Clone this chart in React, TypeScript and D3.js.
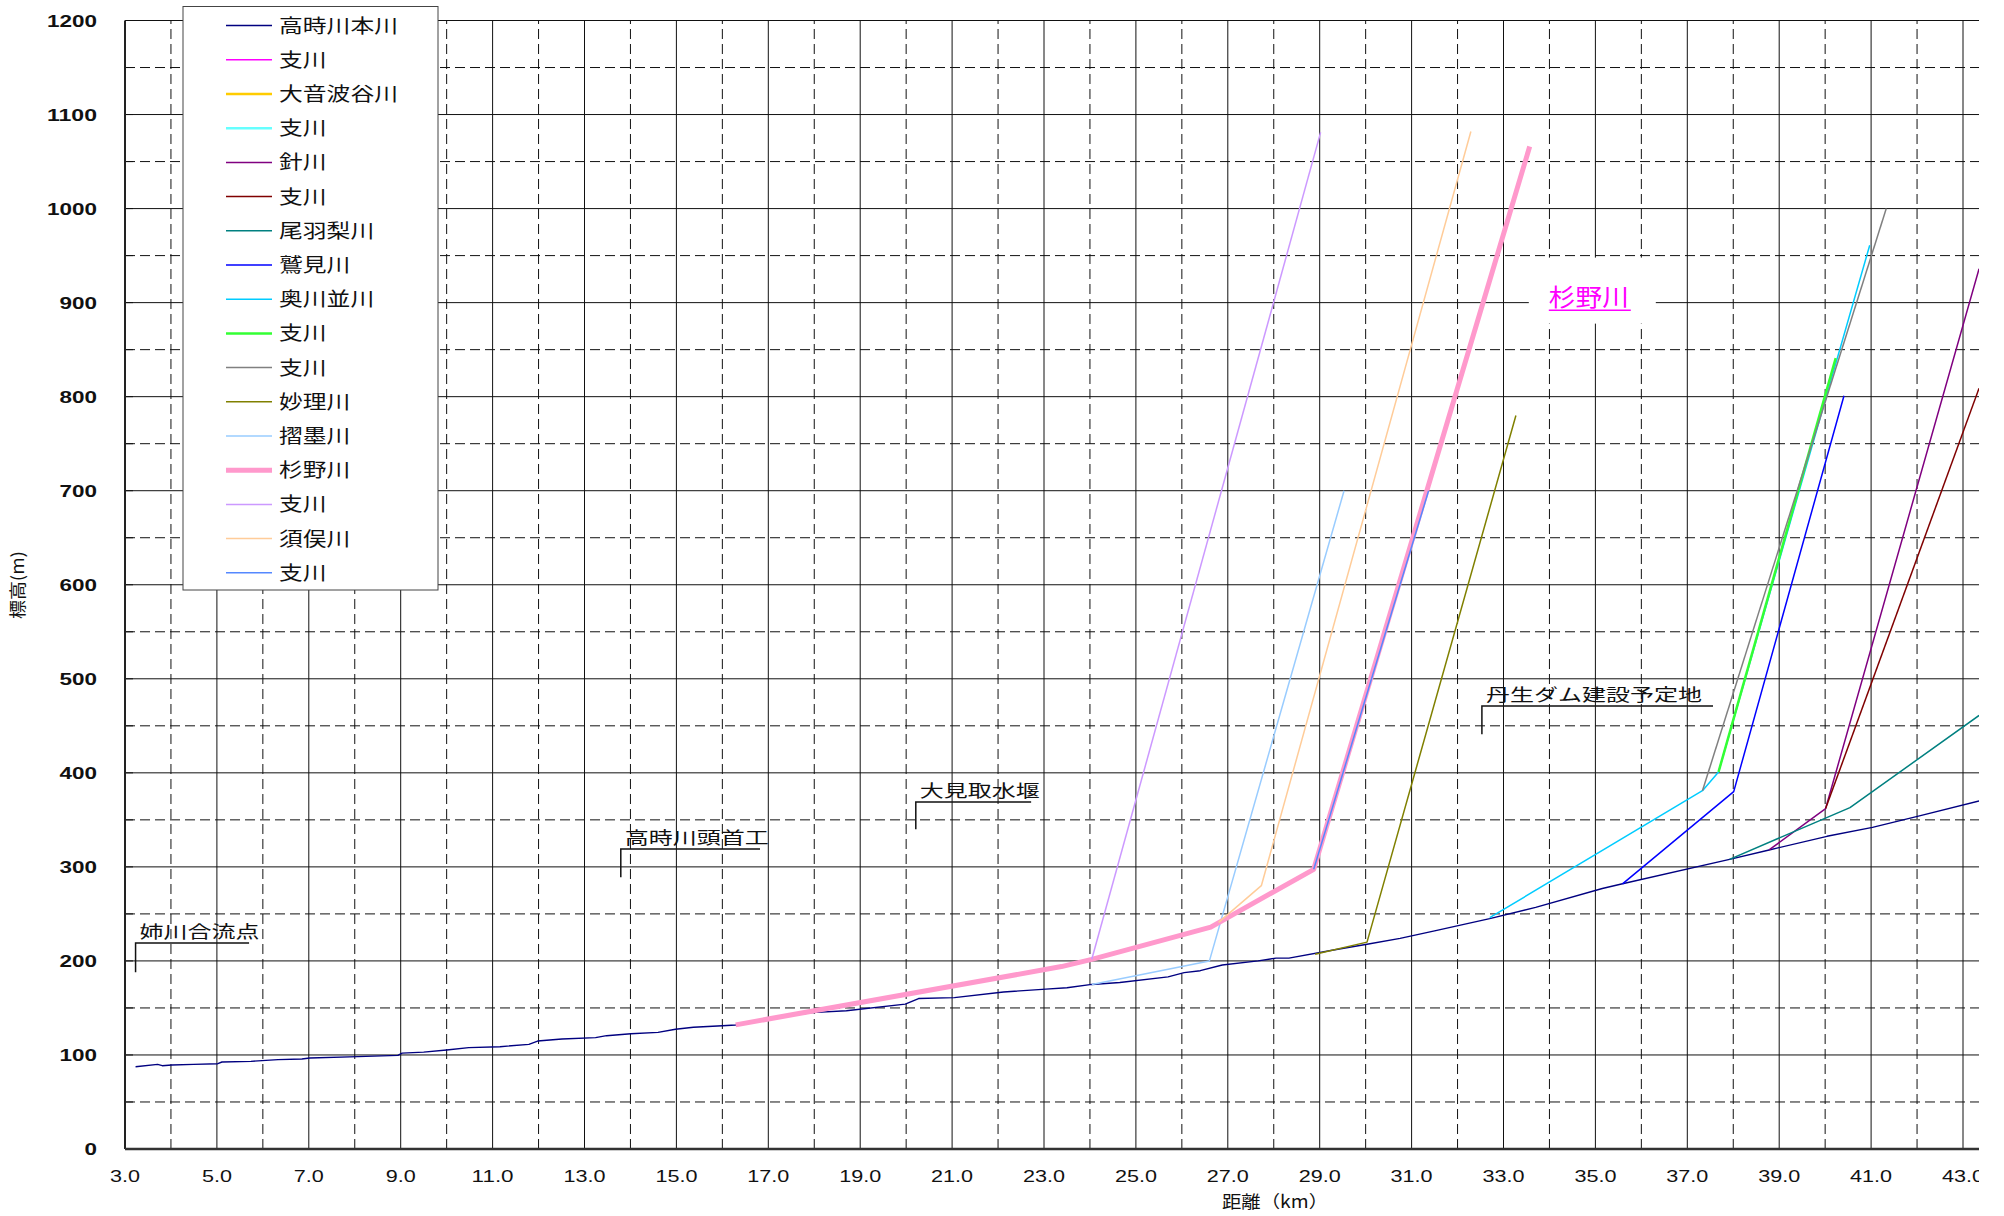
import React from "react";
import * as d3 from "d3";

// ---------- data ----------
const legendNames = [
  "高時川本川", "支川", "大音波谷川", "支川", "針川", "支川", "尾羽梨川", "鷲見川",
  "奥川並川", "支川", "支川", "妙理川", "摺墨川", "杉野川", "支川", "須俣川", "支川",
];

const mainKm = [3.23, 3.71, 3.81, 4.02, 4.49, 5.02, 5.11, 5.74, 6.33, 6.85, 7.02, 8.07, 8.94, 9.03, 9.5, 10.0, 10.48, 11.16, 11.79, 11.98, 12.51, 13.24, 13.48, 14.01, 14.6, 14.98, 15.37, 16.0, 16.29, 16.87, 17.94, 18.7, 19.98, 20.27, 21.05, 22.12, 23.04, 23.5, 24.04, 24.65, 25.7, 26.05, 26.4, 26.88, 27.66, 28.05, 28.33, 29.3, 30.03, 30.75, 31.5, 32.7, 33.7, 35.15, 35.59, 37.92, 38.78, 40.04, 41.03, 42.03, 43.35];
const mainElev = [87.5, 90, 88.6, 89.3, 90, 90.7, 92.5, 93.2, 95, 95.7, 96.8, 98.2, 99.6, 102, 103, 105.3, 107.8, 108.8, 111.3, 114.8, 117, 118.4, 120.5, 122.6, 124, 127.3, 129.4, 131.1, 131.9, 137, 145, 147, 154, 160, 161, 167, 170, 171.5, 175, 177, 183, 187.5, 189.6, 195.7, 200, 203, 203, 211.6, 217.7, 224, 232, 245, 257, 277, 282, 308, 318, 332.5, 342, 354, 370];

const mainTribKm: number[] = [];
const mainTribElev: number[] = [];
const oonebaKm: number[] = [];
const oonebaElev: number[] = [];
const oonebaTribKm: number[] = [];
const oonebaTribElev: number[] = [];
const hariKm = [38.78, 40.01, 43.35];
const hariElev = [318, 362, 936];
const hariTribKm = [40.01, 43.35];
const hariTribElev = [362, 809];
const obanashiKm = [37.92, 40.54, 43.35];
const obanashiElev = [308, 363, 461];
const sumiKm = [35.59, 38.01, 40.41];
const sumiElev = [282, 380, 801];
const okukawanamiKm = [32.7, 37.33, 37.68, 40.97];
const okukawanamiElev = [246, 381, 401, 961];
const greenTribKm = [37.68, 40.23];
const greenTribElev = [401, 841];
const grayTribKm = [37.33, 41.33];
const grayTribElev = [381, 1000];
const myoriKm = [28.9, 30.03, 33.27];
const myoriElev = [207, 220, 780];
const surusumiKm = [24.04, 26.6, 29.53];
const surusumiElev = [175, 200, 700];
const suginoKm = [16.29, 23.38, 24.04, 26.63, 28.87, 33.57];
const suginoElev = [132, 194, 201.7, 236, 297.4, 1066];
const lavenderTribKm = [24.04, 29.02];
const lavenderTribElev = [201.7, 1081];
const sumataKm = [26.8, 27.73, 32.29];
const sumataElev = [241, 280, 1082];
const blueTribKm = [28.87, 31.37];
const blueTribElev = [297.4, 700];

const seriesKm = [mainKm, mainTribKm, oonebaKm, oonebaTribKm, hariKm, hariTribKm, obanashiKm, sumiKm, okukawanamiKm, greenTribKm, grayTribKm, myoriKm, surusumiKm, suginoKm, lavenderTribKm, sumataKm, blueTribKm];
const seriesElev = [mainElev, mainTribElev, oonebaElev, oonebaTribElev, hariElev, hariTribElev, obanashiElev, sumiElev, okukawanamiElev, greenTribElev, grayTribElev, myoriElev, surusumiElev, suginoElev, lavenderTribElev, sumataElev, blueTribElev];

const xTickValues = d3.range(3, 44, 2);
const yTickValues = d3.range(0, 1201, 100);

const annotationLabels = ["姉川合流点", "高時川頭首工", "大見取水堰", "丹生ダム建設予定地"];
const annotationKm = [3.23, 13.79, 20.21, 32.53];
const annotationTopElev = [219, 319, 369, 471];
const annotationBottomElev = [188, 289, 340, 441];
const annotationEndKm = [5.7, 16.82, 22.72, 37.56];

const riverLabel = "杉野川";
const riverLabelKm = 34.9;
const riverLabelElev = 900;

// ---------- styles ----------
const seriesColors = ["#000080", "#FF00FF", "#FFCC00", "#66FFFF", "#800080", "#800000", "#008080", "#0000FF", "#00CCFF", "#33FF33", "#808080", "#808000", "#99CCFF", "#FF99CC", "#CC99FF", "#FFCC99", "#5588FF"];
const seriesWidths = [1.4, 1.5, 2, 2.5, 1.5, 1.5, 1.5, 1.5, 1.5, 2.5, 1.5, 1.5, 1.5, 5, 1.5, 1.5, 1.5];

const CJK = "'Noto Sans CJK JP', 'Noto Sans', sans-serif";
const LAT = "'Liberation Sans', Arial, sans-serif";

export default function App() {
  const x = d3.scaleLinear().domain([3, 43]).range([125, 1963]);
  const y = d3.scaleLinear().domain([0, 1200]).range([1149, 20.5]);
  const clipRight = 1979;
  const line = d3.line<[number, number]>().x((d) => x(d[0])).y((d) => y(d[1]));

  const hGrid = d3.range(50, 1201, 50);
  const vGrid = d3.range(4, 44, 1);

  const legendTop = 25.6;
  const legendStep = 34.2;

  const lx = x(riverLabelKm);
  const ly = y(riverLabelElev);

  return (
    <svg width={2004} height={1216} style={{ position: "absolute", left: 0, top: 0, background: "#fff" }}>
      <defs>
        <clipPath id="clipAll">
          <rect x={0} y={0} width={clipRight} height={1216} />
        </clipPath>
      </defs>
      <rect x={0} y={0} width={2004} height={1216} fill="#fff" />
      <g clipPath="url(#clipAll)">
        {/* grid */}
        {hGrid.map((v) => (
          <line key={"h" + v} x1={x(3)} x2={clipRight} y1={y(v)} y2={y(v)}
            stroke="#111" strokeWidth={1}
            strokeDasharray={v % 100 === 0 ? undefined : "10,5"} />
        ))}
        {vGrid.map((v) => (
          <line key={"v" + v} x1={x(v)} x2={x(v)} y1={y(0)} y2={y(1200)}
            stroke="#111" strokeWidth={1}
            strokeDasharray={v % 2 === 1 ? undefined : "10,5"} />
        ))}
        {/* y inner ticks */}
        {hGrid.map((v) => (
          <line key={"t" + v} x1={x(3)} x2={x(3) + 8} y1={y(v)} y2={y(v)} stroke="#111" strokeWidth={1} />
        ))}
        {/* axes */}
        <line x1={x(3)} x2={x(3)} y1={y(0)} y2={y(1200)} stroke="#222" strokeWidth={2} />
        <line x1={x(3)} x2={clipRight} y1={y(0)} y2={y(0)} stroke="#333" strokeWidth={2.5} />

        {/* series */}
        {seriesKm.map((kms, i) => {
          const pts = kms.map((k, j) => [k, seriesElev[i][j]] as [number, number]);
          if (pts.length < 2) return null;
          return (
            <path key={"s" + i} d={line(pts) || ""} fill="none" stroke={seriesColors[i]}
              strokeWidth={seriesWidths[i]} strokeLinejoin="round" />
          );
        })}

        {/* river label with white box */}
        <rect x={lx - 62} y={y(950) + 2} width={127} height={y(900) - y(950) + 19} fill="#fff" />
        <text x={lx - 42} y={ly + 3} fontFamily={CJK} fontSize={24} fill="#FF00FF"
          textLength={80} lengthAdjust="spacingAndGlyphs">{riverLabel}</text>
        <line x1={lx - 42} x2={lx + 40} y1={ly + 7.5} y2={ly + 7.5} stroke="#FF00FF" strokeWidth={1.5} />

        {/* annotations */}
        {annotationLabels.map((t, i) => {
          const cx = x(annotationKm[i]);
          const cy = y(annotationTopElev[i]);
          const by = y(annotationBottomElev[i]);
          const ex = x(annotationEndKm[i]);
          return (
            <g key={"a" + i}>
              <path d={`M${cx},${by}V${cy}H${ex}`} fill="none" stroke="#111" strokeWidth={1.5} />
              <text x={cx + 4} y={cy - 5} fontFamily={CJK} fontSize={17} fill="#111"
                textLength={t.length * 24} lengthAdjust="spacingAndGlyphs">{t}</text>
            </g>
          );
        })}

        {/* x tick labels */}
        {xTickValues.map((v) => {
          const s = v.toFixed(1);
          const len = s.replace(".", "").length * 12 + 6;
          return (
            <text key={"xl" + v} x={x(v)} y={1182} textAnchor="middle" fontFamily={LAT} fontSize={16}
              fill="#111" textLength={len} lengthAdjust="spacingAndGlyphs">{s}</text>
          );
        })}
      </g>

      {/* y tick labels */}
      {yTickValues.map((v) => {
        const s = String(v);
        return (
          <text key={"yl" + v} x={97} y={y(v) + 6} textAnchor="end" fontFamily={LAT} fontSize={17}
            fontWeight="bold" fill="#111" textLength={s.length * 12.5} lengthAdjust="spacingAndGlyphs">{s}</text>
        );
      })}

      {/* axis titles */}
      <text x={1275} y={1208} textAnchor="middle" fontFamily={CJK} fontSize={17} fill="#111"
        textLength={106} lengthAdjust="spacingAndGlyphs">距離（km）</text>
      <text transform="translate(24,585) rotate(-90)" textAnchor="middle" fontFamily={CJK} fontSize={17}
        fill="#111" textLength={68} lengthAdjust="spacingAndGlyphs">標高(m)</text>

      {/* legend */}
      <rect x={183} y={6.5} width={255} height={583.5} fill="#fff" stroke="#444" strokeWidth={1} />
      {legendNames.map((n, i) => {
        const ly2 = legendTop + i * legendStep;
        return (
          <g key={"lg" + i}>
            <line x1={226} x2={272} y1={ly2} y2={ly2} stroke={seriesColors[i]}
              strokeWidth={i === 13 ? 5 : seriesWidths[i] > 1.5 ? 2.5 : 1.5} />
            <text x={279} y={ly2 + 7} fontFamily={CJK} fontSize={19} fill="#111"
              textLength={n.length * 23.8} lengthAdjust="spacingAndGlyphs">{n}</text>
          </g>
        );
      })}
    </svg>
  );
}
